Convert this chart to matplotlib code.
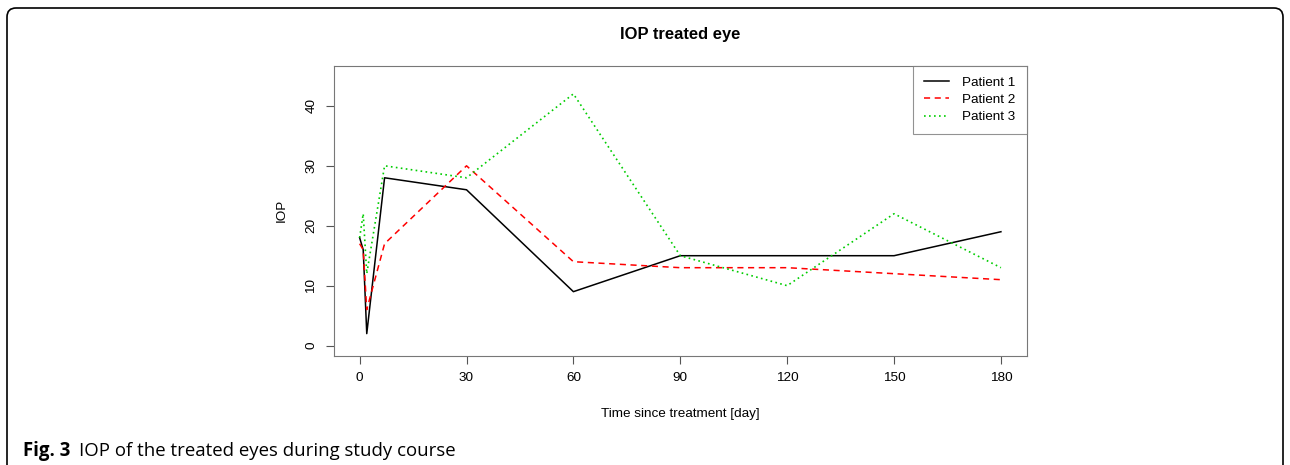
import matplotlib.pyplot as plt
from matplotlib.patches import FancyBboxPatch

# days after treatment
days = [0, 1, 2, 7, 30, 60, 90, 120, 150, 180]
patient1 = [18, 16, 2, 28, 26, 9, 15, 15, 15, 19]
patient2 = [17, 16, 6, 17, 30, 14, 13, 13, 12, 11]
patient3 = [18, 22, 12, 30, 28, 42, 15, 10, 22, 13]
names = ['Patient 1', 'Patient 2', 'Patient 3']

plt.rcParams['font.family'] = ['Liberation Sans', 'DejaVu Sans']
fs = 9.7

fig = plt.figure(figsize=(12.9, 4.65), dpi=100)
ax = fig.add_axes([0.2589, 0.2351, 0.7958 - 0.2589, 0.8587 - 0.2351])

ax.plot(days, patient1, color='black', lw=1.1, ls='-', label=names[0])
ax.plot(days, patient2, color='#ff0000', lw=1.1, ls=(0, (4, 3)), label=names[1])
ax.plot(days, patient3, color='#00cd00', lw=1.2, ls=(0, (1, 2)), label=names[2])

ax.set_xlim(-7.2, 187.2)
ax.set_ylim(-1.68, 46.7)
ax.set_xticks([0, 30, 60, 90, 120, 150, 180])
ax.set_yticks([0, 10, 20, 30, 40])
for lbl in ax.get_yticklabels():
    lbl.set_rotation(90)
    lbl.set_va('center')
ax.tick_params(labelsize=fs, color='#555555', length=6, pad=6)
for sp in ax.spines.values():
    sp.set_color('#777777')
    sp.set_linewidth(0.8)

ax.set_xlabel('Time since treatment [day]', fontsize=fs, labelpad=17)
ax.set_ylabel('IOP', fontsize=fs, labelpad=13)

leg = ax.legend(loc='upper right', fontsize=fs, frameon=True, fancybox=False,
                borderaxespad=0, handlelength=1.85, labelspacing=0.36,
                borderpad=0.8, handletextpad=1.0)
leg.get_frame().set_edgecolor('#777777')
leg.get_frame().set_linewidth(0.8)

# title is centred over the plot region
ax.set_title('IOP treated eye', fontsize=11.9, fontweight='bold', pad=19)

# outer frame of the figure panel
frame = FancyBboxPatch((7 / 1290, -0.1), (1283 - 7) / 1290, 1.1 - 8 / 465,
                       boxstyle='round,pad=0,rounding_size=0.007',
                       transform=fig.transFigure, fill=False,
                       edgecolor='black', lw=1.2, mutation_aspect=1290 / 465)
fig.patches.append(frame)

cap_y = 1 - 451 / 465
t1 = fig.text(23 / 1290, cap_y, 'Fig. 3', ha='left', va='center',
              fontsize=13.4, fontweight='bold', family=['Open Sans', 'DejaVu Sans'])
fig.canvas.draw()
bb = t1.get_window_extent()
fig.text((bb.x1 + 9) / 1290, cap_y, 'IOP of the treated eyes during study course',
         ha='left', va='center', fontsize=13.4, family=['Open Sans', 'DejaVu Sans'])

fig.savefig('out.png', dpi=100)
